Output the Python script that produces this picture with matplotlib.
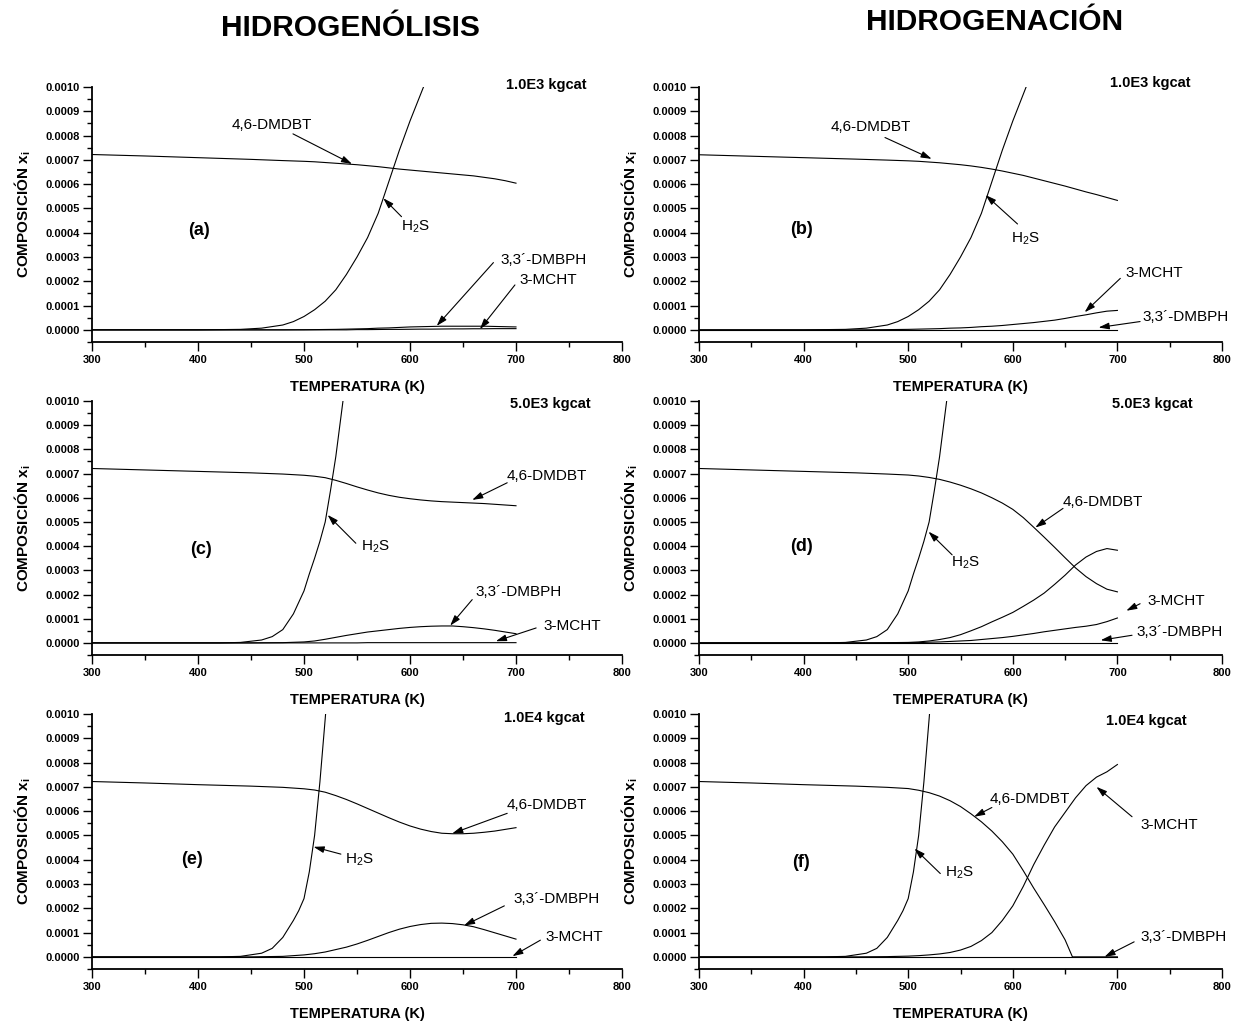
import matplotlib
matplotlib.use('Agg')
import matplotlib.pyplot as plt
from matplotlib.ticker import MultipleLocator, FormatStrFormatter

plt.rcParams['font.family'] = ['Liberation Sans', 'DejaVu Sans']
plt.rcParams['mathtext.fontset'] = 'custom'
plt.rcParams['mathtext.rm'] = 'Liberation Sans'
plt.rcParams['mathtext.it'] = 'Liberation Sans:italic'
plt.rcParams['mathtext.bf'] = 'Liberation Sans:bold'

# ---------------- data ----------------
T = [300, 350, 400, 450, 480, 500, 510, 520, 530, 540, 550, 560, 570, 580, 590,
     600, 610, 620, 630, 640, 650, 660, 670, 680, 690, 700]

# H2S temperature grids (one per catalyst mass)
T_h2s_1e3 = [300, 400, 440, 460, 480, 490, 500, 510, 520, 530, 540, 550, 560, 570, 580, 590, 600, 610, 620]
h2s_1e3 = [0, 0, 0.000002, 0.000007, 0.00002, 0.000034, 0.000055, 0.000083, 0.000118, 0.000165,
           0.000228, 0.0003, 0.00038, 0.00048, 0.00061, 0.00074, 0.00086, 0.00097, 0.00108]
T_h2s_5e3 = [300, 420, 440, 460, 470, 480, 490, 500, 505, 510, 515, 520, 525, 530, 535, 540]
h2s_5e3 = [0, 0, 0.000002, 0.000012, 0.000026, 0.000055, 0.00012, 0.000215, 0.000285, 0.00035,
           0.00042, 0.0005, 0.00063, 0.00077, 0.00094, 0.00111]
T_h2s_1e4 = [300, 420, 440, 460, 470, 480, 490, 495, 500, 505, 510, 515, 520, 525]
h2s_1e4 = [0, 0, 0.000002, 0.000015, 0.000035, 0.00008, 0.00015, 0.00019, 0.00024, 0.00035,
           0.0005, 0.00072, 0.00098, 0.00125]

# (a) hydrogenolysis, 1.0E3 kgcat
dmdbt_a = [0.000722, 0.000716, 0.000709, 0.000702, 0.000697, 0.000694, 0.000692, 0.000689, 0.000686,
           0.000683, 0.00068, 0.000676, 0.000672, 0.000667, 0.000662, 0.000658, 0.000654, 0.00065,
           0.000646, 0.000642, 0.000638, 0.000634, 0.000628, 0.000622, 0.000614, 0.000604]
dmbph_a = [0, 0, 0, 0, 0, 0.0000005, 0.000001, 0.0000015, 0.000002, 0.000003, 0.000004, 0.000005,
           0.000007, 0.000008, 0.00001, 0.000012, 0.000013, 0.000014, 0.000015, 0.000015, 0.000015,
           0.000015, 0.000015, 0.000014, 0.000013, 0.000012]
mcht_a = [0, 0, 0, 0, 0, 0, 0, 0, 0, 0, 0.000001, 0.000001, 0.0000015, 0.000002, 0.000002, 0.0000025,
          0.000003, 0.000003, 0.0000035, 0.000004, 0.000004, 0.0000045, 0.0000045, 0.000005, 0.000005,
          0.000005]

# (b) hydrogenation, 1.0E3 kgcat
dmdbt_b = [0.000721, 0.000715, 0.000709, 0.000703, 0.000699, 0.000696, 0.000694, 0.000691, 0.000688,
           0.000684, 0.00068, 0.000675, 0.000669, 0.000662, 0.000654, 0.000645, 0.000636, 0.000625,
           0.000614, 0.000603, 0.000592, 0.00058, 0.000568, 0.000557, 0.000545, 0.000533]
mcht_b = [0, 0, 0, 0, 0.000001, 0.000002, 0.000003, 0.000004, 0.000005, 0.000007, 0.000008, 0.00001,
          0.000013, 0.000015, 0.000018, 0.000022, 0.000026, 0.00003, 0.000035, 0.00004, 0.000047,
          0.000055, 0.000062, 0.00007, 0.000077, 0.00008]
dmbph_b = [0] * 26

# (c) hydrogenolysis, 5.0E3 kgcat
dmdbt_c = [0.000721, 0.000715, 0.000709, 0.000703, 0.000698, 0.000693, 0.000689, 0.000683, 0.000672,
           0.000659, 0.000645, 0.000632, 0.00062, 0.00061, 0.000602, 0.000596, 0.000591, 0.000587,
           0.000584, 0.000582, 0.00058, 0.000578, 0.000576, 0.000573, 0.00057, 0.000567]
dmbph_c = [0, 0, 0, 0, 0.000001, 0.000004, 0.000008, 0.000015, 0.000023, 0.000031, 0.000038, 0.000045,
           0.00005, 0.000055, 0.00006, 0.000064, 0.000067, 0.000069, 0.00007, 0.00007, 0.000067,
           0.000063, 0.000058, 0.000052, 0.000045, 0.000038]
mcht_c = [0, 0, 0, 0, 0, 0, 0, 0, 0, 0, 0, 0.000001, 0.000001, 0.000001, 0.000001, 0.000001, 0.000001,
          0.000001, 0.000001, 0.000001, 0.000001, 0.000001, 0.000001, 0.000001, 0.000001, 0.000001]

# (d) hydrogenation, 5.0E3 kgcat
dmdbt_d = [0.000721, 0.000715, 0.000709, 0.000703, 0.000698, 0.000694, 0.00069, 0.000684, 0.000676,
           0.000665, 0.000652, 0.000637, 0.00062, 0.0006, 0.000578, 0.000552, 0.000518, 0.000478,
           0.000437, 0.000395, 0.000352, 0.00031, 0.000274, 0.000245, 0.000222, 0.000211]
hump_d = [0, 0, 0, 0, 0.000001, 0.000002, 0.000004, 0.000008, 0.000014, 0.000022, 0.000034, 0.00005,
          0.000067, 0.000087, 0.000106, 0.000126, 0.000151, 0.000177, 0.000206, 0.000242, 0.00028,
          0.000322, 0.000355, 0.000378, 0.00039, 0.000383]
mcht_d = [0, 0, 0, 0, 0, 0.000001, 0.000001, 0.000003, 0.000004, 0.000006, 0.000008, 0.00001,
          0.000014, 0.000018, 0.000022, 0.000027, 0.000033, 0.000039, 0.000046, 0.000052, 0.000058,
          0.000064, 0.000069, 0.000076, 0.000088, 0.000103]
dmbph_d = [0] * 26

# (e) hydrogenolysis, 1.0E4 kgcat
dmdbt_e = [0.000722, 0.000716, 0.000709, 0.000703, 0.000698, 0.000692, 0.000687, 0.000678, 0.000664,
           0.000648, 0.00063, 0.000611, 0.000592, 0.000573, 0.000555, 0.000539, 0.000526, 0.000516,
           0.000509, 0.000507, 0.000507, 0.000509, 0.000513, 0.000518, 0.000525, 0.000532]
dmbph_e = [0, 0, 0, 0, 0.000002, 0.000008, 0.000013, 0.00002, 0.00003, 0.00004, 0.000053, 0.000068,
           0.000084, 0.0001, 0.000114, 0.000125, 0.000133, 0.000138, 0.000139, 0.000137, 0.000132,
           0.000124, 0.000112, 0.000099, 0.000086, 0.000073]
mcht_e = [0] * 26

# (f) hydrogenation, 1.0E4 kgcat
T_dmdbt_f = [300, 350, 400, 450, 480, 500, 510, 520, 530, 540, 550, 560, 570, 580, 590,
             600, 610, 620, 630, 640, 650, 657, 670, 680, 690, 700]
dmdbt_f = [0.000722, 0.000716, 0.000709, 0.000703, 0.000698, 0.000693, 0.000686, 0.000676, 0.000662,
           0.000643, 0.000619, 0.000589, 0.000556, 0.000518, 0.000474, 0.000423, 0.000355, 0.000283,
           0.000215, 0.000145, 0.00007, 0, 0, 0, 0, 0]
mcht_f = [0, 0, 0, 0, 0.000001, 0.000003, 0.000005, 0.000008, 0.000012, 0.000018, 0.000028, 0.000043,
          0.000067, 0.0001, 0.00015, 0.00021, 0.00029, 0.00038, 0.00046, 0.000535, 0.000595,
          0.000655, 0.000705, 0.00074, 0.000762, 0.000792]
dmbph_f = [0] * 26

mass_labels = ['1.0E3 kgcat', '1.0E3 kgcat', '5.0E3 kgcat', '5.0E3 kgcat', '1.0E4 kgcat', '1.0E4 kgcat']
panel_labels = ['(a)', '(b)', '(c)', '(d)', '(e)', '(f)']
column_titles = ['HIDROGENÓLISIS', 'HIDROGENACIÓN']
x_ticks = [300, 400, 500, 600, 700, 800]

H2S = 'H$_{\\mathregular{2}}$S'
DMBPH = '3,3´-DMBPH'

panels = [
    dict(curves=[(T, dmdbt_a), (T, dmbph_a), (T, mcht_a), (T_h2s_1e3, h2s_1e3)],
         notes=[('4,6-DMDBT', (470, 0.000844), (489.6, 0.000807), (545.3, 0.000683)),
                (H2S, (605, 0.000425), (592, 0.000466), (574.8, 0.000542)),
                (DMBPH, (726, 0.000288), (678.7, 0.000277), (625.2, 0.0000164)),
                ('3-MCHT', (730.6, 0.000205), (699, 0.000185), (666, 0.000003))],
         plab=(400.6, 0.000411), mass=(729, 0.001007)),
    dict(curves=[(T, dmdbt_b), (T, mcht_b), (T, dmbph_b), (T_h2s_1e3, h2s_1e3)],
         notes=[('4,6-DMDBT', (464.5, 0.000836), (477.8, 0.000792), (522.4, 0.000704)),
                (H2S, (612, 0.000377), (604.5, 0.000436), (574, 0.000555)),
                ('3-MCHT', (735, 0.000233), (702.8, 0.000212), (668.7, 0.0000726)),
                (DMBPH, (765, 0.0000548), (721.7, 0.0000342), (682, 0.0000096))],
         plab=(398, 0.000414), mass=(731, 0.001016)),
    dict(curves=[(T, dmdbt_c), (T, dmbph_c), (T, mcht_c), (T_h2s_5e3, h2s_5e3)],
         notes=[('4,6-DMDBT', (728.8, 0.00069), (691.7, 0.000662), (658.7, 0.000591)),
                (H2S, (567.8, 0.000398), (548.9, 0.000412), (522.3, 0.000529)),
                (DMBPH, (702, 0.00021), (658.7, 0.000179), (637.9, 0.0000714)),
                ('3-MCHT', (753, 0.0000714), (719, 0.0000618), (681, 0.0000069))],
         plab=(403, 0.000387), mass=(732.6, 0.000986)),
    dict(curves=[(T, dmdbt_d), (T, hump_d), (T, mcht_d), (T, dmbph_d), (T_h2s_5e3, h2s_5e3)],
         notes=[('4,6-DMDBT', (685.8, 0.000584), (648, 0.000556), (621.5, 0.000477)),
                (H2S, (555, 0.00033), (542, 0.000364), (519.4, 0.00046)),
                ('3-MCHT', (755.8, 0.000172), (721.7, 0.000162), (708.5, 0.000133)),
                (DMBPH, (759.5, 0.000044), (714, 0.0000316), (684, 0.000011))],
         plab=(398, 0.000398), mass=(733, 0.000986)),
    dict(curves=[(T, dmdbt_e), (T, dmbph_e), (T, mcht_e), (T_h2s_1e4, h2s_1e4)],
         notes=[('4,6-DMDBT', (728.8, 0.000625), (691.7, 0.000591), (639.8, 0.000508)),
                (H2S, (552.7, 0.000401), (534.8, 0.000423), (509, 0.000453)),
                (DMBPH, (738, 0.000238), (689, 0.00021), (651, 0.000129)),
                ('3-MCHT', (755, 0.0000824), (723, 0.0000687), (696.6, 0.0000027))],
         plab=(394.7, 0.000401), mass=(727, 0.000982)),
    dict(curves=[(T_dmdbt_f, dmdbt_f), (T, mcht_f), (T, dmbph_f), (T_h2s_1e4, h2s_1e4)],
         notes=[('4,6-DMDBT', (615.8, 0.000652), (580, 0.000615), (563, 0.000577)),
                (H2S, (549, 0.000348), (530.7, 0.000343), (506, 0.000446)),
                ('3-MCHT', (750, 0.000543), (714, 0.000577), (680, 0.0007)),
                (DMBPH, (763, 0.0000824), (716, 0.0000618), (687.7, 0.0))],
         plab=(397.6, 0.000387), mass=(727.4, 0.000973)),
]

# ---------------- layout ----------------
W, H = 1252, 1022
fig = plt.figure(figsize=(W / 100, H / 100), dpi=100)

col_px = [(92, 530), (699, 523)]              # left, width
row_px = [(87, 342), (401, 655), (714, 969)]  # top, bottom

for i, p in enumerate(panels):
    r, c = divmod(i, 2)
    lx, wx = col_px[c]
    top, bot = row_px[r]
    ax = fig.add_axes([lx / W, 1 - bot / H, wx / W, (bot - top) / H])
    for xs, ys in p['curves']:
        ax.plot(xs, ys, color='black', lw=0.8, solid_joinstyle='round')
    ax.set_xlim(300, 800)
    ax.set_ylim(-0.00005, 0.0010)
    ax.xaxis.set_major_locator(MultipleLocator(100))
    ax.xaxis.set_minor_locator(MultipleLocator(50))
    ax.yaxis.set_major_locator(MultipleLocator(0.0001))
    ax.yaxis.set_minor_locator(MultipleLocator(0.00005))
    ax.yaxis.set_major_formatter(FormatStrFormatter('%.4f'))
    ax.set_xticks(x_ticks)
    ax.spines['top'].set_visible(False)
    ax.spines['right'].set_visible(False)
    for s in ('left', 'bottom'):
        ax.spines[s].set_linewidth(1.3)
    ax.tick_params(which='major', direction='out', length=6.5, width=1.0, labelsize=8, pad=2.5)
    ax.tick_params(which='minor', direction='out', length=3.5, width=1.0)
    for lab in ax.get_xticklabels() + ax.get_yticklabels():
        lab.set_fontweight('bold')
    ax.set_xlabel('TEMPERATURA (K)', fontsize=10.5, fontweight='bold', labelpad=11)
    ax.set_ylabel('COMPOSICIÓN x$_{\\mathregular{i}}$', fontsize=11, fontweight='bold', labelpad=9)

    for txt, txy, tail, tip in p['notes']:
        ax.text(txy[0], txy[1], txt, fontsize=11, ha='center', va='center', clip_on=False)
        ax.annotate('', xy=tip, xytext=tail, annotation_clip=False,
                    arrowprops=dict(arrowstyle='-|>,head_length=0.7,head_width=0.22',
                                    color='black', lw=0.8, shrinkA=0, shrinkB=0,
                                    mutation_scale=9))
    ax.text(p['plab'][0], p['plab'][1], panel_labels[i], fontsize=13, fontweight='bold',
            ha='center', va='center')
    ax.text(p['mass'][0], p['mass'][1], mass_labels[i], fontsize=10.5, fontweight='bold',
            ha='center', va='center', clip_on=False)

fig.text(350 / W, 1 - 28 / H, column_titles[0], fontsize=21.5, fontweight='bold', ha='center', va='center')
fig.text(995 / W, 1 - 22 / H, column_titles[1], fontsize=21.5, fontweight='bold', ha='center', va='center')

fig.savefig('out.png', dpi=100, facecolor='white')
